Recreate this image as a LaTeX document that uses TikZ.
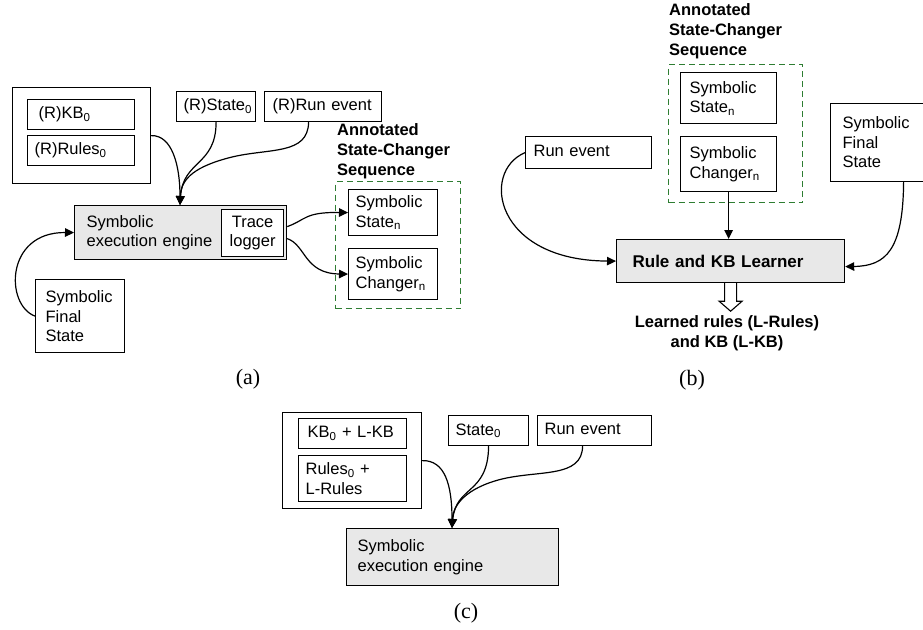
\documentclass[tikz,border=0pt]{standalone}
\usepackage{fontspec}
\setmainfont{Liberation Sans}
\newfontfamily\labfont{Liberation Serif}
\usetikzlibrary{arrows.meta,calc}
\definecolor{dgreen}{RGB}{46,125,50}
\definecolor{shade}{RGB}{232,232,232}
\tikzset{
  box/.style={draw, line width=1.2pt, rectangle, inner ysep=0pt, align=left,
    anchor=north west, font=\fontsize{16.5}{19.5}\selectfont},
  grpbox/.style={draw, line width=1.2pt, rectangle, inner sep=0pt, anchor=north west},
  seqbox/.style={draw=dgreen, line width=1.3pt, dash pattern=on 6pt off 4pt,
    rectangle, inner sep=0pt, anchor=north west},
  filled/.style={fill=shade},
  anntext/.style={inner sep=0pt, anchor=north west, align=left,
    font=\fontsize{16.5}{20}\selectfont\bfseries},
  conn/.style={line width=1.2pt, -{Triangle[length=9pt,width=8.5pt]}},
  sublabel/.style={inner sep=0pt, font=\labfont\fontsize{22}{26}\selectfont}
}
\begin{document}
\begin{tikzpicture}[x=1pt,y=-1pt]
\useasboundingbox (0,0) rectangle (923,629);
% ================= (a) =================
\node[grpbox, minimum width=138pt, minimum height=96pt] (grpA) at (12,87) {};
\node[box, inner xsep=11pt, text width=85pt, minimum height=30pt] (kbA) at (27,99) {(R)KB\textsubscript{0}};
\node[box, inner xsep=7pt, text width=93pt, minimum height=30pt] (rulesA) at (27,135) {(R)Rules\textsubscript{0}};
\node[box, inner xsep=7pt, text width=65pt, minimum height=30pt] (stateA) at (176,91) {(R)State\textsubscript{0}};
\node[box, inner xsep=8pt, text width=101pt, minimum height=30pt] (runA) at (264,91) {(R)Run event};
\node[anntext] (annA) at (337,123) {Annotated\\State-Changer\\Sequence};
\node[seqbox, minimum width=125pt, minimum height=127pt] (seqA) at (335,181) {};
\node[box, inner xsep=7pt, text width=75pt, minimum height=46pt] (stnA) at (348,189) {Symbolic\\State\textsubscript{n}};
\node[box, inner xsep=7pt, text width=75pt, minimum height=51pt] (chnA) at (348,248) {Symbolic\\Changer\textsubscript{n}};
\node[box, filled, inner xsep=12pt, text width=188pt, minimum height=54pt] (engA) at (74,205) {Symbolic\\execution engine};
\node[box, fill=white, inner xsep=0pt, text width=62pt, minimum height=47pt, align=center] (traceA) at (221,209) {Trace\\logger};
\node[box, inner xsep=10pt, text width=69pt, minimum height=73pt] (finA) at (35,279) {Symbolic\\Final\\State};
\coordinate (tipA) at (180,205);
\draw[conn] (grpA.east) .. controls (172,135) and (180,165) .. (tipA);
\draw[conn] (stateA.south) .. controls (216,166) and (183,160) .. (tipA);
\draw[conn] ([xshift=-14.5pt]runA.south) .. controls (308,155) and (270,148) .. (232,157)
            .. controls (196,166) and (181,178) .. (tipA);
\draw[conn] (finA.west) .. controls (5,305) and (5,232) .. (engA.west);
\draw[conn] ([yshift=6pt]engA.east) .. controls (306,220) and (304,212) .. (stnA.west);
\draw[conn] ([yshift=-6pt]engA.east) .. controls (306,245) and (304,273.5) .. (chnA.west);
\node[sublabel] (labA) at (248,379) {(a)};
% ================= (b) =================
\node[anntext] (annB) at (669,3) {Annotated\\State-Changer\\Sequence};
\node[seqbox, minimum width=134pt, minimum height=138pt] (seqB) at (668,64) {};
\node[box, inner xsep=9pt, text width=78pt, minimum height=51pt] (stnB) at (680,72) {Symbolic\\State\textsubscript{n}};
\node[box, inner xsep=9pt, text width=78pt, minimum height=55pt] (chnB) at (680,136) {Symbolic\\Changer\textsubscript{n}};
\node[box, inner xsep=8pt, text width=110pt, minimum height=32pt] (runB) at (525,136) {Run event\vphantom{\textsubscript{n}}};
\node[box, inner xsep=12pt, text width=71pt, minimum height=78pt] (finB) at (830,103) {Symbolic\\Final\\State};
\node[box, filled, inner xsep=16pt, text width=196pt, minimum height=43pt, font=\fontsize{17}{20}\selectfont\bfseries] (learnB) at (616,239) {Rule and KB Learner};
\node[inner sep=0pt, align=center, font=\fontsize{16.5}{19.5}\selectfont\bfseries] (outB) at (727,333) {Learned rules (L-Rules)\\and KB (L-KB)};
\draw[conn] (chnB.south) -- (chnB.south |- learnB.north);
\draw[conn] (runB.west) .. controls (480,172) and (495,260.5) .. (learnB.west);
\draw[conn] ([xshift=25.5pt]finB.south) .. controls (903,250) and (886,266) .. ([yshift=-5.5pt]learnB.east);
\draw[line width=1.1pt, fill=white]
  ([xshift=-6pt]learnB.south) -- ++(0,18) -- ++(-5.5,0) -- ++(11.5,10) -- ++(11.5,-10)
  -- ++(-5.5,0) -- ++(0,-18);
\node[sublabel] (labB) at (692,380) {(b)};
% ================= (c) =================
\node[grpbox, minimum width=139pt, minimum height=96pt] (grpC) at (282,412) {};
\node[box, inner xsep=9pt, text width=90pt, minimum height=30pt] (kbC) at (298,418) {KB\textsubscript{0} + L-KB};
\node[box, inner xsep=7pt, text width=94pt, minimum height=46pt] (rulesC) at (298,455) {Rules\textsubscript{0} +\\L-Rules};
\node[box, inner xsep=7pt, text width=66pt, minimum height=30pt] (stateC) at (448,415) {State\textsubscript{0}};
\node[box, inner xsep=7pt, text width=100pt, minimum height=30pt] (runC) at (537,415) {Run event\vphantom{\textsubscript{0}}};
\node[box, filled, inner xsep=11pt, text width=190pt, minimum height=57pt] (engC) at (346,528) {Symbolic\\execution engine};
\coordinate (tipC) at (452,528);
\draw[conn] (grpC.east) .. controls (445,460) and (452,485) .. (tipC);
\draw[conn] (stateC.south) .. controls (488,495) and (456,485) .. (tipC);
\draw[conn] ([xshift=-12pt]runC.south) .. controls (582,478) and (540,470) .. (502,479)
            .. controls (466,488) and (453,505) .. (tipC);
\node[sublabel] (labC) at (466,613) {(c)};
\end{tikzpicture}
\end{document}
